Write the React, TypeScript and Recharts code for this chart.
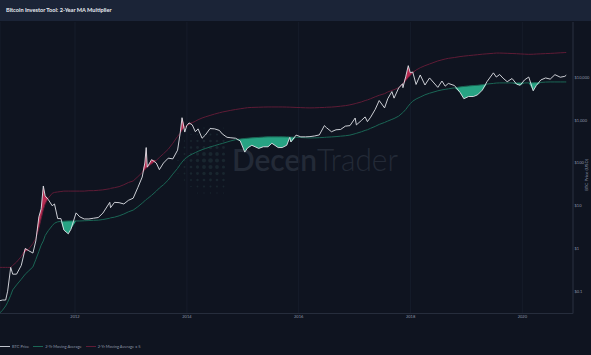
import { Area, CartesianGrid, ComposedChart, Line, XAxis, YAxis } from "recharts";

// sample dates (daily closes picked off the chart)
const dates = [
  "2010-08-28", "2010-09-15", "2010-10-05", "2010-10-18", "2010-11-07", "2010-11-20", "2010-12-15",
  "2011-01-15", "2011-02-10", "2011-03-01", "2011-04-01", "2011-04-20", "2011-05-10", "2011-05-25",
  "2011-06-08", "2011-06-20", "2011-07-10", "2011-08-05", "2011-08-20", "2011-09-10", "2011-10-01",
  "2011-10-20", "2011-11-18", "2011-12-05", "2012-01-08", "2012-02-01", "2012-03-01", "2012-04-01",
  "2012-05-01", "2012-06-01", "2012-07-01", "2012-08-15", "2012-08-20", "2012-09-15", "2012-10-15",
  "2012-11-15", "2012-12-15", "2013-01-15", "2013-02-15", "2013-03-15", "2013-04-01", "2013-04-10",
  "2013-04-17", "2013-05-15", "2013-06-15", "2013-07-05", "2013-08-01", "2013-09-01", "2013-10-01",
  "2013-11-01", "2013-11-18", "2013-11-30", "2013-12-18", "2013-12-31", "2014-01-15", "2014-02-05",
  "2014-02-25", "2014-03-15", "2014-04-10", "2014-05-01", "2014-06-01", "2014-07-01", "2014-08-01",
  "2014-08-20", "2014-09-20", "2014-10-15", "2014-11-15", "2014-12-15", "2015-01-14", "2015-02-01",
  "2015-03-01", "2015-04-15", "2015-05-15", "2015-06-15", "2015-07-10", "2015-08-20", "2015-09-15",
  "2015-10-15", "2015-11-04", "2015-11-11", "2015-12-15", "2016-01-15", "2016-02-15", "2016-03-15",
  "2016-04-15", "2016-05-15", "2016-06-17", "2016-07-01", "2016-08-02", "2016-09-01", "2016-10-01",
  "2016-11-01", "2016-12-01", "2017-01-04", "2017-01-12", "2017-02-15", "2017-03-10", "2017-03-25",
  "2017-04-15", "2017-05-15", "2017-06-10", "2017-07-15", "2017-08-05", "2017-09-01", "2017-09-15",
  "2017-10-15", "2017-11-10", "2017-11-12", "2017-12-01", "2017-12-17", "2017-12-30", "2018-01-15",
  "2018-02-06", "2018-03-05", "2018-04-05", "2018-05-05", "2018-06-28", "2018-07-25", "2018-08-15",
  "2018-09-05", "2018-10-15", "2018-11-20", "2018-12-15", "2019-01-15", "2019-02-15", "2019-03-15",
  "2019-04-15", "2019-05-15", "2019-06-26", "2019-07-15", "2019-08-06", "2019-08-28", "2019-09-24",
  "2019-10-26", "2019-11-25", "2019-12-18", "2020-01-15", "2020-02-12", "2020-03-12", "2020-04-01",
  "2020-05-01", "2020-06-01", "2020-07-01", "2020-08-01", "2020-09-05", "2020-10-05", "2020-10-14",
];

const btcPrice = [
  0.06, 0.062, 0.062, 0.1, 0.36, 0.25, 0.25,
  0.4, 1.0, 0.9, 0.78, 1.5, 5.5, 8.5,
  29, 17, 14, 10, 11, 5.0, 5.0,
  2.7, 2.2, 2.8, 6.8, 5.5, 4.9, 4.9,
  5.1, 5.3, 6.7, 12, 9, 12, 11.8,
  11, 13.4, 15, 27, 47, 100, 230,
  80, 120, 100, 70, 100, 130, 125,
  200, 500, 1150, 530, 750, 870, 780,
  540, 630, 380, 450, 640, 630, 580,
  480, 400, 390, 380, 330, 180, 225,
  260, 220, 240, 240, 290, 230, 230,
  260, 400, 310, 450, 410, 410, 415,
  430, 455, 750, 670, 540, 600, 610,
  730, 750, 1130, 780, 1000, 1200, 930,
  1180, 1800, 2900, 1950, 3200, 4700, 3300,
  5700, 7200, 5800, 10800, 19000, 13000, 13500,
  6900, 11500, 6700, 9800, 5900, 8300, 6300,
  7300, 6500, 4500, 3200, 3600, 3600, 3950,
  5100, 8000, 12900, 10300, 11800, 9700, 8000,
  9500, 7000, 6600, 8800, 10300, 4900, 6500,
  8800, 9800, 9200, 11700, 10200, 10700, 11400,
];

const ma2y = [
  0.031, 0.036, 0.045, 0.055, 0.08, 0.107, 0.14,
  0.19, 0.25, 0.29, 0.37, 0.55, 0.85, 1.2,
  1.5, 2.0, 2.6, 3.4, 3.9, 4.2, 4.3,
  4.35, 4.4, 4.4, 4.4, 4.4, 4.45, 4.5,
  4.55, 4.6, 4.75, 5.1, 5.2, 5.4, 5.8,
  6.4, 7.2, 7.9, 9.5, 11.5, 13, 14,
  14.5, 17.5, 22, 26, 31, 40, 55,
  75, 92, 105, 125, 135, 148, 162,
  175, 188, 205, 218, 237, 255, 275,
  287, 310, 330, 352, 365, 375, 380,
  388, 398, 404, 410, 410, 410, 410,
  408, 405, 404, 400, 395, 390, 386,
  388, 392, 398, 402, 408, 415, 425,
  435, 450, 485, 495, 540, 580, 600,
  650, 720, 800, 890, 960, 1050, 1100,
  1250, 1500, 1520, 1800, 2150, 2450, 2800,
  3150, 3500, 3950, 4300, 4900, 5150, 5300,
  5450, 5750, 6050, 6200, 6350, 6500, 6600,
  6800, 7050, 7300, 7450, 7500, 7500, 7500,
  7500, 7500, 7500, 7500, 7500, 7550, 7600,
  7700, 7850, 7900, 7900, 7900, 7900, 7900,
];

const ma2yX5 = [
  0.36, 0.36, 0.36, 0.36, 0.36, 0.4, 0.48,
  0.65, 0.85, 0.93, 1.3, 1.7, 3.0, 5.0,
  8.0, 11, 15, 19.5, 20.5, 21, 21.5,
  22, 22, 22, 22, 22, 22, 22.5,
  22.5, 23, 23.5, 25, 25.5, 26.5, 28,
  31, 35, 38, 48, 60, 70, 75,
  80, 95, 115, 135, 165, 210, 290,
  420, 500, 580, 690, 740, 800, 880,
  950, 1030, 1130, 1200, 1300, 1400, 1500,
  1560, 1640, 1710, 1790, 1860, 1930, 1970,
  2000, 2025, 2040, 2050, 2050, 2050, 2050,
  2040, 2030, 2025, 2000, 1980, 1960, 1950,
  1960, 1980, 2000, 2020, 2040, 2080, 2140,
  2200, 2300, 2450, 2500, 2700, 2900, 3000,
  3200, 3550, 3850, 4200, 4600, 5000, 5200,
  5800, 7000, 7100, 8500, 10000, 11200, 13000,
  15000, 17000, 19000, 20800, 24500, 26000, 27200,
  28200, 29500, 31000, 31800, 32700, 33500, 34300,
  35300, 36000, 37000, 37500, 37500, 37300, 37000,
  36600, 36200, 35800, 35400, 35000, 35200, 35600,
  36000, 36400, 36800, 37300, 38000, 38500, 38700,
];

const yearTicks = ["2012", "2014", "2016", "2018", "2020"];
const priceTicks = [0.1, 1, 10, 100, 1000, 10000];

const rows = dates.map((d, i) => ({
  t: Date.parse(d),
  price: btcPrice[i],
  ma: ma2y[i],
  ma5: ma2yX5[i],
}));

const BG = "#0f1420";
const TEXT = "#8e97a9";
const MA_COLOR = "#1b6655";
const MA5_COLOR = "#5f1c36";

const fmtPrice = (v: number) => "$" + (v >= 1 ? v.toLocaleString("en-US") : String(v));

const Watermark = () => {
  const dots = [];
  for (let i = 0; i < 8; i++) {
    for (let j = 0; j < 11; j++) {
      const cx = 178 + i * 6.5;
      const cy = 128 + j * 6.5;
      const d = Math.hypot(cx - 210, cy - 161);
      if (d > 36) continue;
      const r = 0.5 + 1.9 * (1 - d / 36);
      dots.push(<circle key={i + "-" + j} cx={cx} cy={cy} r={r} fill="#19262f" />);
    }
  }
  return (
    <svg width={591} height={355} style={{ position: "absolute", left: 0, top: 0 }}>
      {dots}
      <text x={232} y={171} fontSize={31} fill="#232a37" fontFamily="Lato" textLength={166} lengthAdjust="spacingAndGlyphs">
        <tspan fontWeight={600}>Decen</tspan>
        <tspan fontWeight={300}>Trader</tspan>
      </text>
    </svg>
  );
};

const LegendItem = ({ color, label }: { color: string; label: string }) => (
  <span style={{ display: "inline-flex", alignItems: "center", marginRight: 4 }}>
    <span style={{ display: "inline-block", width: 10, height: 1, background: color, marginRight: 2 }} />
    <span>{label}</span>
  </span>
);

export default function App() {
  return (
    <div style={{ position: "absolute", left: 0, top: 0, width: 591, height: 355, background: BG, overflow: "hidden", fontFamily: "Lato, sans-serif" }}>
      <div style={{ position: "absolute", left: 0, top: 0, width: 591, height: 21, background: "#1b2437" }}>
        <span style={{ position: "absolute", left: 6, top: 6, fontSize: 5.6, fontWeight: 700, color: "#e8ebf0", whiteSpace: "nowrap" }}>
          Bitcoin Investor Tool: 2-Year MA Multiplier
        </span>
      </div>
      <Watermark />
      <div style={{ position: "absolute", left: 0, top: 0 }}>
        <ComposedChart width={591} height={325} data={rows} margin={{ top: 22, right: 0, bottom: 0, left: 0 }}>
          <CartesianGrid horizontal={false} stroke="#161c2a" />
          <XAxis
            dataKey="t"
            type="number"
            domain={[Date.UTC(2010, 7, 29), Date.UTC(2020, 10, 27)]}
            allowDataOverflow
            ticks={yearTicks.map((y) => Date.UTC(Number(y), 0, 1))}
            tickFormatter={(v: number) => String(new Date(v).getUTCFullYear())}
            height={11.5}
            tickSize={0}
            tickMargin={1.5}
            tick={{ fontSize: 4, fill: TEXT }}
            axisLine={{ stroke: "#262d3c" }}
          />
          <YAxis
            orientation="right"
            scale="log"
            domain={[0.03, 200000]}
            allowDataOverflow
            ticks={priceTicks}
            tickFormatter={fmtPrice}
            width={18}
            tickSize={0}
            tickMargin={1.5}
            tick={{ fontSize: 4, fill: TEXT }}
            axisLine={{ stroke: "#262d3c" }}
          />
          <Area
            type="linear"
            dataKey={(r: any) => (r.price < r.ma ? [r.price, r.ma] : [r.ma, r.ma])}
            stroke="none"
            fill="#27a383"
            fillOpacity={1}
            isAnimationActive={false}
          />
          <Area
            type="linear"
            dataKey={(r: any) => (r.price > r.ma5 ? [r.ma5, r.price] : [r.ma5, r.ma5])}
            stroke="none"
            fill="#b52a50"
            fillOpacity={1}
            isAnimationActive={false}
          />
          <Line type="linear" dataKey="ma" stroke={MA_COLOR} strokeWidth={1} dot={false} isAnimationActive={false} />
          <Line type="linear" dataKey="ma5" stroke={MA5_COLOR} strokeWidth={1} dot={false} isAnimationActive={false} />
          <Line type="linear" dataKey="price" stroke="#e2e4ea" strokeWidth={0.9} dot={false} isAnimationActive={false} />
        </ComposedChart>
      </div>
      <div
        style={{
          position: "absolute",
          left: 586,
          top: 175,
          transform: "translate(-50%, -50%) rotate(-90deg)",
          fontSize: 4.5,
          color: TEXT,
          whiteSpace: "nowrap",
        }}
      >
        BTC Price (USD)
      </div>
      <div style={{ position: "absolute", left: 0, top: 344, fontSize: 4, color: TEXT, whiteSpace: "nowrap", display: "flex" }}>
        <LegendItem color="#bfc3cc" label="BTC Price" />
        <LegendItem color={MA_COLOR} label="2-Yr Moving Average" />
        <LegendItem color={MA5_COLOR} label="2-Yr Moving Average x 5" />
      </div>
    </div>
  );
}
